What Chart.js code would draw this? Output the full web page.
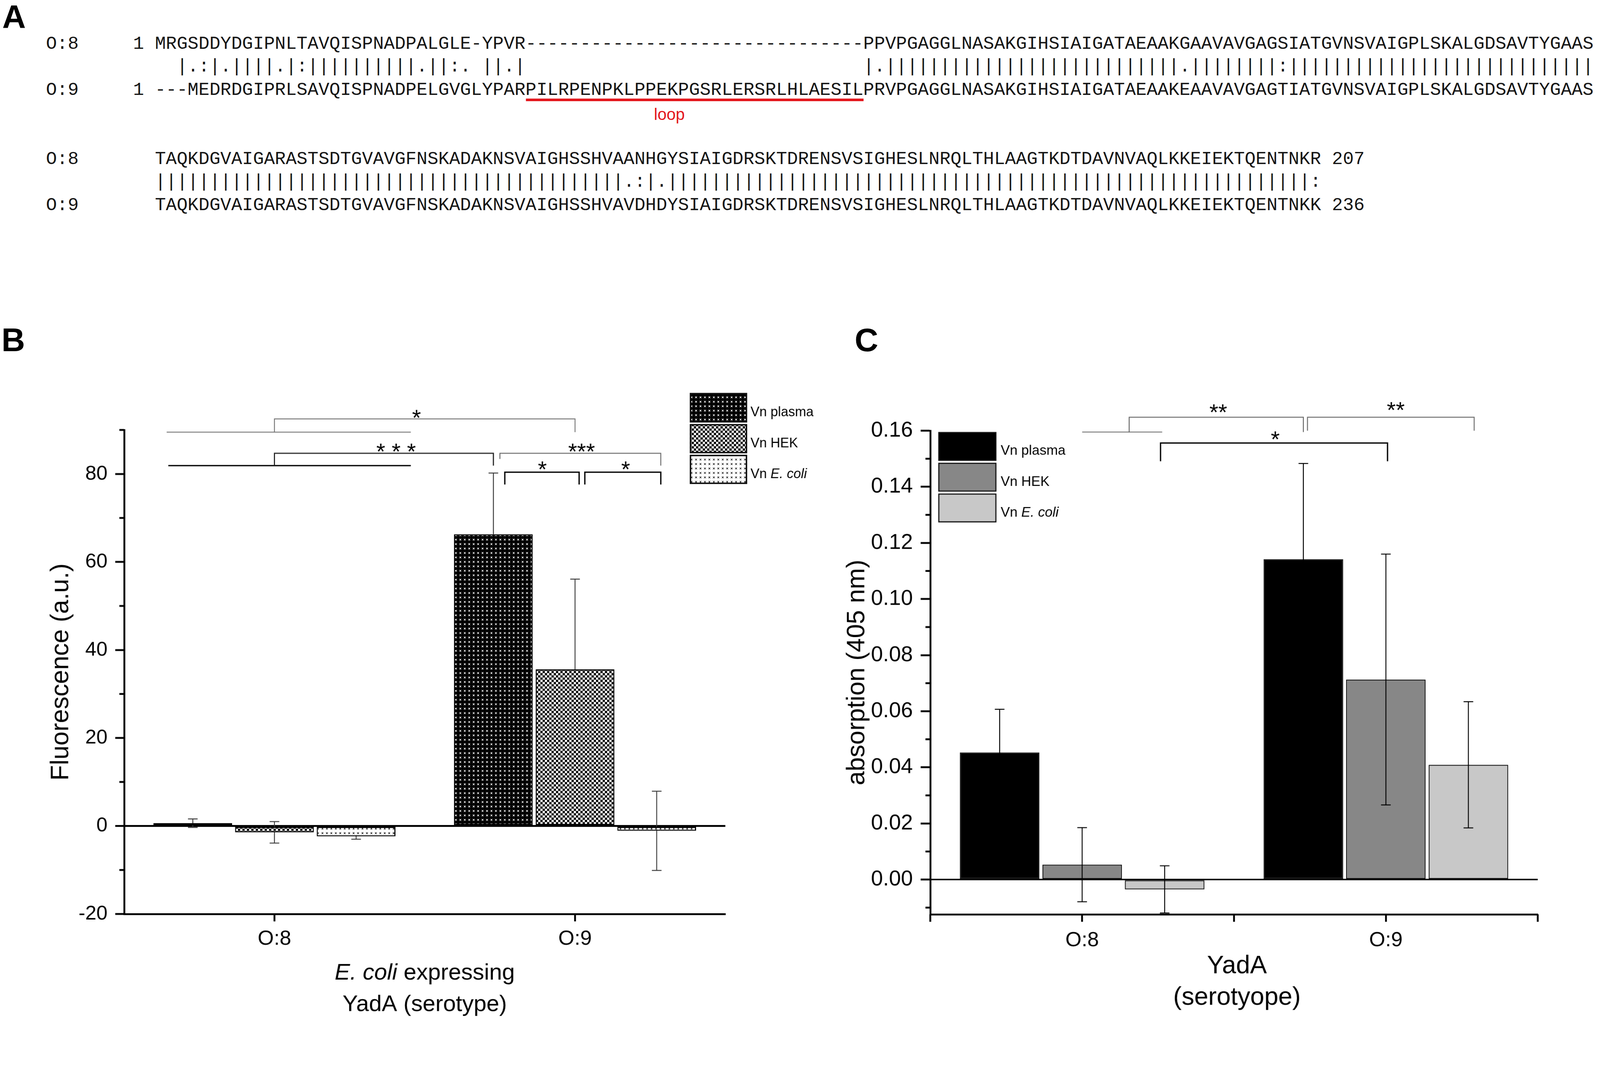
<!DOCTYPE html>
<html>
<head>
<meta charset="utf-8">
<script src="https://cdn.jsdelivr.net/npm/chart.js@4.4.1/dist/chart.umd.min.js"></script>
<style>
  html, body { margin: 0; padding: 0; background: #fff; overflow: hidden; }
  #page { width: 4317px; height: 2752px; position: absolute; left: 0; top: 0; transform-origin: 0 0; background: #fff; font-family: "Liberation Sans", Arial, sans-serif; }
  .seq { position: absolute; font-family: "Liberation Mono", "DejaVu Sans Mono", monospace; font-size: 49px; line-height: 60px; white-space: pre; color: #151515; }
  .plabel { position: absolute; font-family: "Liberation Sans", Arial, sans-serif; font-weight: bold; font-size: 88px; line-height: 88px; color: #000; z-index: 5; }
  canvas { position: absolute; }
</style>
</head>
<body>
<div id="page">
<div class="plabel" style="left:6px;top:2px">A</div>
<div class="plabel" style="left:4px;top:874px">B</div>
<div class="plabel" style="left:2306px;top:874px">C</div>
<div id="panelA"></div>
<canvas id="chartB" width="2250" height="1902" style="left:0px;top:850px;width:2250px;height:1902px"></canvas>
<canvas id="chartC" width="2067" height="1902" style="left:2250px;top:850px;width:2067px;height:1902px"></canvas>
</div>

<script>
// fit the 4317x2752 design to the actual viewport
(function fit() {
  const s = Math.min(window.innerWidth / 4317, window.innerHeight / 2752);
  document.getElementById('page').style.transform = 'scale(' + s + ')';
})();

// ---------------- DATA ----------------
const categories   = ['O:8', 'O:9'];
const seriesLabels = ['Vn plasma', 'Vn HEK', 'Vn E. coli'];

// Panel B: fluorescence (a.u.), mean and error
const fluoPlasma    = [0.63, 66.3];
const fluoHEK       = [-1.45, 35.6];
const fluoEcoli     = [-2.35, -1.1];
const fluoPlasmaErr = [0.97, 13.9];
const fluoHEKErr    = [2.45, 20.5];
const fluoEcoliErr  = [0.65, 9.0];
const fluoTicks     = [-20, 0, 20, 40, 60, 80];

// Panel C: absorption (405 nm), mean and error
const absPlasma    = [0.0453, 0.1142];
const absHEK       = [0.0053, 0.0713];
const absEcoli     = [-0.0035, 0.0409];
const absPlasmaErr = [0.0154, 0.0341];
const absHEKErr    = [0.0132, 0.0447];
const absEcoliErr  = [0.0084, 0.0225];
const absTicks     = [0, 0.02, 0.04, 0.06, 0.08, 0.10, 0.12, 0.14, 0.16];

// Panel A: alignment text
const seqO8a = 'MRGSDDYDGIPNLTAVQISPNADPALGLE-YPVR' + '-'.repeat(31) + 'PPVPGAGGLNASAKGIHSIAIGATAEAAKGAAVAVGAGSIATGVNSVAIGPLSKALGDSAVTYGAAS';
const seqO9a = '---MEDRDGIPRLSAVQISPNADPELGVGLYPARPILRPENPKLPPEKPGSRLERSRLHLAESILPRVPGAGGLNASAKGIHSIAIGATAEAAKEAAVAVGAGTIATGVNSVAIGPLSKALGDSAVTYGAAS';
const matchA = '  |.:|.||||.|:' + '|'.repeat(10) + '.||:. ||.|' + ' '.repeat(31) + '|.' + '|'.repeat(27) + '.' + '|'.repeat(8) + ':' + '|'.repeat(28);
const seqO8b = 'TAQKDGVAIGARASTSDTGVAVGFNSKADAKNSVAIGHSSHVAANHGYSIAIGDRSKTDRENSVSIGHESLNRQLTHLAAGTKDTDAVNVAQLKKEIEKTQENTNKR';
const seqO9b = 'TAQKDGVAIGARASTSDTGVAVGFNSKADAKNSVAIGHSSHVAVDHDYSIAIGDRSKTDRENSVSIGHESLNRQLTHLAAGTKDTDAVNVAQLKKEIEKTQENTNKK';
const matchB = '|'.repeat(43) + '.:|.' + '|'.repeat(59) + ':';
const endO8 = '207', endO9 = '236';

// ---------------- PANEL A ----------------
(function buildA() {
  const host = document.getElementById('panelA');
  const lines = [
    { t: 'O:8     1 ' + seqO8a, top: 116 - 27 },
    { t: '          ' + matchA, top: 178 - 28 },
    { t: 'O:9     1 ' + seqO9a, top: 240 - 27 },
    { t: 'O:8       ' + seqO8b + ' ' + endO8, top: 427 - 27 },
    { t: '          ' + matchB, top: 489 - 28 },
    { t: 'O:9       ' + seqO9b + ' ' + endO9, top: 551 - 27 }
  ];
  lines.forEach(l => {
    const d = document.createElement('div');
    d.className = 'seq';
    d.style.left = '124px';
    d.style.top = l.top + 'px';
    d.textContent = l.t;
    host.appendChild(d);
  });
  const ul = document.createElement('div');
  ul.style.cssText = 'position:absolute;left:1419px;top:266px;width:911px;height:7px;background:#e3161c;';
  host.appendChild(ul);
  const lp = document.createElement('div');
  lp.style.cssText = 'position:absolute;left:1706px;width:200px;top:284px;text-align:center;font-family:"Liberation Sans",Arial,sans-serif;font-size:44px;line-height:50px;color:#e3161c;';
  lp.textContent = 'loop';
  host.appendChild(lp);
})();

// ---------------- HELPERS ----------------
const FONT = '"Liberation Sans", Arial, Helvetica, sans-serif';
function fnt(size, italic) { return (italic ? 'italic ' : '') + size + 'px ' + FONT; }

// parts: [{t, i}] ; draws with caps centred on (cx, cy)
function richText(ctx, parts, cx, cy, size, color, align) {
  ctx.save();
  ctx.fillStyle = color || '#000';
  ctx.textBaseline = 'alphabetic';
  ctx.textAlign = 'left';
  const widths = parts.map(p => { ctx.font = fnt(size, p.i); return ctx.measureText(p.t).width; });
  const total = widths.reduce((a, b) => a + b, 0);
  let x = align === 'left' ? cx : cx - total / 2;
  parts.forEach((p, k) => { ctx.font = fnt(size, p.i); ctx.fillText(p.t, x, cy + 0.358 * size); x += widths[k]; });
  ctx.restore();
}

function tile(bg, fg, kind) {
  const c = document.createElement('canvas');
  c.width = 12; c.height = 12;
  const g = c.getContext('2d');
  g.fillStyle = bg; g.fillRect(0, 0, 12, 12);
  g.fillStyle = fg;
  if (kind === 'dots') {
    g.fillRect(4, 4, 4, 4);
    g.fillRect(3, 3, 1, 1); g.fillRect(8, 3, 1, 1); g.fillRect(3, 8, 1, 1); g.fillRect(8, 8, 1, 1);
  } else if (kind === 'check') {
    g.fillRect(0, 0, 6, 6); g.fillRect(6, 6, 6, 6);
  }
  return c;
}

function slotX(chart, cat, s) {
  const a = chart.getDatasetMeta(0).data[cat], b = chart.getDatasetMeta(1).data[cat];
  return chart.scales.x.getPixelForValue(cat) + s * (b.x - a.x);
}

// draws error bars; phase 'inside' = part between value and zero, 'outside' = rest
function drawErrors(chart, cfg, phase) {
  const ctx = chart.ctx, y = chart.scales.y;
  ctx.save();
  ctx.strokeStyle = cfg.errColor;
  ctx.lineWidth = cfg.errWidth;
  chart.data.datasets.forEach((ds, i) => {
    chart.getDatasetMeta(i).data.forEach((bar, j) => {
      const v = ds.data[j], e = ds.errors[j];
      const hi = v + e, lo = v - e;
      const py = val => y.getPixelForValue(val);
      ctx.beginPath();
      if (phase === 'inside' || phase === 'all') {
        const a = v >= 0 ? Math.max(lo, 0) : v, b = v >= 0 ? v : Math.min(hi, 0);
        ctx.moveTo(bar.x, py(a)); ctx.lineTo(bar.x, py(b));
        if (v >= 0 && lo >= 0) { ctx.moveTo(bar.x - cfg.cap, py(lo)); ctx.lineTo(bar.x + cfg.cap, py(lo)); }
        if (v < 0 && hi <= 0) { ctx.moveTo(bar.x - cfg.cap, py(hi)); ctx.lineTo(bar.x + cfg.cap, py(hi)); }
      }
      if (phase === 'outside' || phase === 'all') {
        if (v >= 0) {
          ctx.moveTo(bar.x, py(v)); ctx.lineTo(bar.x, py(hi));
          ctx.moveTo(bar.x - cfg.cap, py(hi)); ctx.lineTo(bar.x + cfg.cap, py(hi));
          if (lo < 0) { ctx.moveTo(bar.x, py(0)); ctx.lineTo(bar.x, py(lo)); ctx.moveTo(bar.x - cfg.cap, py(lo)); ctx.lineTo(bar.x + cfg.cap, py(lo)); }
        } else {
          ctx.moveTo(bar.x, py(v)); ctx.lineTo(bar.x, py(lo));
          ctx.moveTo(bar.x - cfg.cap, py(lo)); ctx.lineTo(bar.x + cfg.cap, py(lo));
          if (hi > 0) { ctx.moveTo(bar.x, py(0)); ctx.lineTo(bar.x, py(hi)); ctx.moveTo(bar.x - cfg.cap, py(hi)); ctx.lineTo(bar.x + cfg.cap, py(hi)); }
        }
      }
      ctx.stroke();
    });
  });
  ctx.restore();
}

function makePlugin(cfg) {
  return {
    id: 'extras' + cfg.name,
    beforeDatasetsDraw(chart) {
      if (cfg.insideBehind) drawErrors(chart, cfg, 'inside');
    },
    afterDatasetsDraw(chart) {
      drawErrors(chart, cfg, cfg.insideBehind ? 'outside' : 'all');
    },
    afterDraw(chart) {
      const ctx = chart.ctx, ys = chart.scales.y, ca = chart.chartArea;
      ctx.save();
      // minor ticks on y
      ctx.strokeStyle = '#000'; ctx.lineWidth = 5;
      const tv = ys.ticks.map(t => t.value);
      const step = tv[1] - tv[0];
      for (let v = tv[0] - step / 2; v <= ys.max + 1e-9; v += step) {
        if (v < ys.min - 1e-9) continue;
        const py = ys.getPixelForValue(v);
        ctx.beginPath(); ctx.moveTo(ca.left - cfg.minorLen, py); ctx.lineTo(ca.left, py); ctx.stroke();
      }
      // category boundary ticks on x
      if (cfg.boundaryTicks) {
        const n = categories.length, w = (ca.right - ca.left) / n;
        for (let k = 0; k <= n; k++) {
          const px = ca.left + k * w;
          ctx.beginPath(); ctx.moveTo(px, ca.bottom); ctx.lineTo(px, ca.bottom + cfg.xTickLen); ctx.stroke();
        }
      }
      // significance lines
      cfg.lines.forEach(l => {
        ctx.strokeStyle = l.c; ctx.lineWidth = l.w;
        ctx.beginPath();
        const x1 = slotX(chart, l.a[0], l.a[1]), x2 = slotX(chart, l.b[0], l.b[1]);
        if (l.top === undefined) {
          const py = ys.getPixelForValue(l.y);
          ctx.moveTo(x1, py); ctx.lineTo(x2, py);
        } else {
          ctx.moveTo(x1, ys.getPixelForValue(l.yl));
          ctx.lineTo(x1, ys.getPixelForValue(l.top));
          ctx.lineTo(x2, ys.getPixelForValue(l.top));
          ctx.lineTo(x2, ys.getPixelForValue(l.yr));
        }
        ctx.stroke();
      });
      // stars
      ctx.fillStyle = '#000';
      ctx.font = fnt(cfg.starSize, false);
      ctx.textAlign = 'center'; ctx.textBaseline = 'alphabetic';
      cfg.stars.forEach(s => {
        const px = slotX(chart, s.at[0], s.at[1]);
        const py = ys.getPixelForValue(s.y);
        ctx.fillText(s.t, px, py + 0.57 * cfg.starSize);
      });
      // legend
      cfg.legend.forEach((L, k) => {
        const bx = L.x - cfg.ox, by = L.y - cfg.oy;
        ctx.fillStyle = chart.data.datasets[k].backgroundColor;
        ctx.fillRect(bx, by, L.w, L.h);
        ctx.strokeStyle = '#111'; ctx.lineWidth = cfg.legendBorder;
        ctx.strokeRect(bx, by, L.w, L.h);
        const lab = seriesLabels[k];
        const parts = lab.indexOf('E. coli') >= 0 ? [{ t: 'Vn ', i: false }, { t: 'E. coli', i: true }] : [{ t: lab, i: false }];
        richText(ctx, parts, cfg.legendTextX - cfg.ox, L.ty - cfg.oy, cfg.legendSize, '#000', 'left');
      });
      // axis titles
      const cx = (ca.left + ca.right) / 2;
      cfg.xTitle.forEach((line, k) => richText(ctx, line, cx + cfg.xTitleDx, ca.bottom + cfg.xTitleY[k], cfg.xTitleSize, '#000'));
      ctx.save();
      ctx.translate(cfg.yTitleX, (ca.top + ca.bottom) / 2);
      ctx.rotate(-Math.PI / 2);
      richText(ctx, [{ t: cfg.yTitle, i: false }], 0, 0, cfg.yTitleSize, '#000');
      ctx.restore();
      ctx.restore();
    }
  };
}

function yGrid(zeroWidth) {
  return {
    drawOnChartArea: true, drawTicks: true, tickLength: 0, tickWidth: 5, tickColor: '#000',
    color: c => (c.tick && c.tick.value === 0) ? '#000' : 'rgba(0,0,0,0)',
    lineWidth: c => (c.tick && c.tick.value === 0) ? zeroWidth : 0
  };
}

// ---------------- PANEL B ----------------
const ctxB = document.getElementById('chartB').getContext('2d');
const patPlasma = ctxB.createPattern(tile('#000', '#d8d8d8', 'dots'), 'repeat');
const patHEK    = ctxB.createPattern(tile('#fff', '#000', 'check'), 'repeat');
const patEcoli  = ctxB.createPattern(tile('#fff', '#444', 'dots'), 'repeat');

const pluginB = makePlugin({
  name: 'B', ox: 0, oy: 850,
  errColor: '#3a3a3a', errWidth: 2.5, cap: 13, minorLen: 13, insideBehind: true,
  boundaryTicks: false, xTickLen: 20,
  starSize: 62,
  lines: [
    { a: [0, -1.32], b: [0, 1.67], y: 89.5, c: '#777', w: 2.5 },
    { a: [0, 0], b: [1, 0], top: 92.5, yl: 89.5, yr: 89.5, c: '#777', w: 2.5 },
    { a: [0, -1.30], b: [0, 1.67], y: 81.9, c: '#000', w: 3.5 },
    { a: [0, 0], b: [1, -1.0], top: 84.7, yl: 81.9, yr: 81.9, c: '#222', w: 3 },
    { a: [1, -0.92], b: [1, 1.05], top: 84.7, yl: 83.4, yr: 81.9, c: '#666', w: 2.5 },
    { a: [1, -0.86], b: [1, 0.05], top: 80.4, yl: 77.6, yr: 77.6, c: '#000', w: 3.5 },
    { a: [1, 0.12], b: [1, 1.05], top: 80.4, yl: 77.6, yr: 77.6, c: '#000', w: 3.5 }
  ],
  stars: [
    { t: '*', at: [0, 1.74], y: 94.0 },
    { t: '* * *', at: [0, 1.49], y: 86.3 },
    { t: '***', at: [1, 0.08], y: 86.3 },
    { t: '*', at: [1, -0.40], y: 82.3 },
    { t: '*', at: [1, 0.62], y: 82.3 }
  ],
  legend: [
    { x: 1863, y: 1062, w: 151, h: 76, ty: 1110 },
    { x: 1863, y: 1146, w: 151, h: 75, ty: 1194 },
    { x: 1863, y: 1229, w: 151, h: 75, ty: 1277 }
  ],
  legendTextX: 2025, legendSize: 36, legendBorder: 4,
  xTitle: [
    [{ t: 'E. coli', i: true }, { t: ' expressing', i: false }],
    [{ t: 'YadA (serotype)', i: false }]
  ],
  xTitleY: [155, 240], xTitleSize: 62, xTitleDx: 0,
  yTitle: 'Fluorescence (a.u.)', yTitleX: 160, yTitleSize: 68
});

new Chart(ctxB, {
  type: 'bar',
  data: {
    labels: categories,
    datasets: [
      { label: seriesLabels[0], data: fluoPlasma, errors: fluoPlasmaErr, backgroundColor: patPlasma },
      { label: seriesLabels[1], data: fluoHEK, errors: fluoHEKErr, backgroundColor: patHEK },
      { label: seriesLabels[2], data: fluoEcoli, errors: fluoEcoliErr, backgroundColor: patEcoli }
    ]
  },
  options: {
    responsive: false, animation: false, devicePixelRatio: 1,
    layout: { padding: { left: 0, top: 310, right: 293, bottom: 0 } },
    datasets: { bar: { categoryPercentage: 0.815, barPercentage: 0.964, borderColor: '#000', borderWidth: 3, borderSkipped: false } },
    plugins: { legend: { display: false }, tooltip: { enabled: false } },
    scales: {
      x: {
        offset: true,
        grid: { offset: false, drawOnChartArea: false, drawTicks: true, tickLength: 20, tickWidth: 5, tickColor: '#000', color: '#000' },
        border: { display: true, color: '#000', width: 5 },
        ticks: { color: '#000', font: { family: FONT, size: 56 }, padding: 14 },
        afterFit: s => { s.height = 286; }
      },
      y: {
        min: -20, max: 90,
        afterBuildTicks: s => { s.ticks = fluoTicks.map(v => ({ value: v })); },
        grid: Object.assign(yGrid(5), { tickLength: 24 }),
        border: { display: true, color: '#000', width: 5 },
        ticks: { color: '#000', font: { family: FONT, size: 54 }, padding: 21, callback: v => String(v) },
        afterFit: s => { s.width = 335; }
      }
    }
  },
  plugins: [pluginB]
});

// ---------------- PANEL C ----------------
const ctxC = document.getElementById('chartC').getContext('2d');
const pluginC = makePlugin({
  name: 'C', ox: 2250, oy: 850,
  errColor: '#000', errWidth: 2.5, cap: 13, minorLen: 13, insideBehind: false,
  boundaryTicks: true, xTickLen: 20,
  starSize: 62,
  lines: [
    { a: [0, 0.0], b: [0, 0.97], y: 0.1595, c: '#777', w: 2.5 },
    { a: [0, 0.57], b: [1, -1.0], top: 0.1648, yl: 0.1595, yr: 0.1595, c: '#666', w: 2.5 },
    { a: [1, -0.95], b: [1, 1.07], top: 0.1648, yl: 0.1600, yr: 0.1600, c: '#666', w: 2.5 },
    { a: [0, 0.95], b: [1, 0.02], top: 0.1556, yl: 0.1491, yr: 0.1491, c: '#000', w: 3.5 }
  ],
  stars: [
    { t: '**', at: [0, 1.65], y: 0.1685 },
    { t: '**', at: [1, 0.12], y: 0.1693 },
    { t: '*', at: [0, 2.34], y: 0.1589 }
  ],
  legend: [
    { x: 2533, y: 1167, w: 154, h: 75, ty: 1214 },
    { x: 2533, y: 1250, w: 154, h: 75, ty: 1298 },
    { x: 2533, y: 1333, w: 154, h: 75, ty: 1381 }
  ],
  legendTextX: 2700, legendSize: 37, legendBorder: 3,
  xTitle: [
    [{ t: 'YadA', i: false }],
    [{ t: '(serotyope)', i: false }]
  ],
  xTitleY: [135, 220], xTitleSize: 68, xTitleDx: 8,
  yTitle: 'absorption (405 nm)', yTitleX: 58, yTitleSize: 68
});

new Chart(ctxC, {
  type: 'bar',
  data: {
    labels: categories,
    datasets: [
      { label: seriesLabels[0], data: absPlasma, errors: absPlasmaErr, backgroundColor: '#000000' },
      { label: seriesLabels[1], data: absHEK, errors: absHEKErr, backgroundColor: '#878787' },
      { label: seriesLabels[2], data: absEcoli, errors: absEcoliErr, backgroundColor: '#c8c8c8' }
    ]
  },
  options: {
    responsive: false, animation: false, devicePixelRatio: 1,
    layout: { padding: { left: 0, top: 312, right: 168, bottom: 0 } },
    datasets: { bar: { categoryPercentage: 0.815, barPercentage: 0.964, borderColor: '#111', borderWidth: 2.5, borderSkipped: false } },
    plugins: { legend: { display: false }, tooltip: { enabled: false } },
    scales: {
      x: {
        offset: true,
        grid: { offset: false, drawOnChartArea: false, drawTicks: true, tickLength: 20, tickWidth: 5, tickColor: '#000', color: '#000' },
        border: { display: true, color: '#000', width: 5 },
        ticks: { color: '#000', font: { family: FONT, size: 56 }, padding: 17 },
        afterFit: s => { s.height = 285; }
      },
      y: {
        min: -0.0124, max: 0.16,
        afterBuildTicks: s => { s.ticks = absTicks.map(v => ({ value: v })); },
        grid: Object.assign(yGrid(4), { tickLength: 26 }),
        border: { display: true, color: '#000', width: 5 },
        ticks: { color: '#000', font: { family: FONT, size: 58 }, padding: 21, callback: v => Number(v).toFixed(2) },
        afterFit: s => { s.width = 260; }
      }
    }
  },
  plugins: [pluginC]
});
</script>
</body>
</html>
